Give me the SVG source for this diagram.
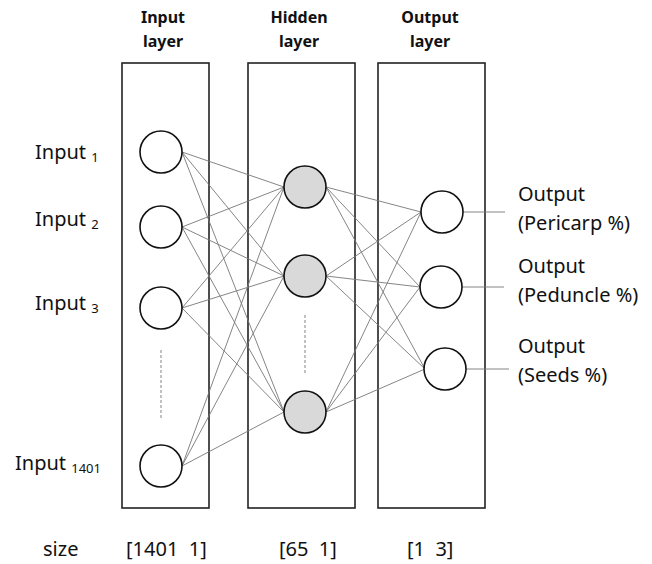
<svg xmlns="http://www.w3.org/2000/svg" width="652" height="564" viewBox="0 0 652 564">
<style>
.box{fill:none;stroke:#222;stroke-width:1.6}
.n{fill:#fff;stroke:#111;stroke-width:1.6}
.h{fill:#d9d9d9;stroke:#111;stroke-width:1.6}
.c{stroke:#777;stroke-width:0.9;fill:none}
.d{stroke:#999;stroke-width:1.2;stroke-dasharray:3,2}
.t{font-family:"Noto Sans","Open Sans",sans-serif;font-size:20px;fill:#111}
.s{font-size:13px}
.hd{font-family:"Noto Sans","Open Sans",sans-serif;font-size:16px;font-weight:bold;fill:#111;text-anchor:middle}
</style>
<rect width="652" height="564" fill="#fff"/>
<g id="headers">
<text class="hd" x="163" y="23">Input</text><text class="hd" x="163" y="47">layer</text>
<text class="hd" x="299" y="23">Hidden</text><text class="hd" x="299" y="47">layer</text>
<text class="hd" x="430" y="23">Output</text><text class="hd" x="430" y="47">layer</text>
</g>
<g id="layers">
<rect id="input-layer" class="box" x="122" y="63" width="87" height="445"/>
<rect id="hidden-layer" class="box" x="248" y="63" width="107" height="445"/>
<rect id="output-layer" class="box" x="378" y="63" width="107" height="445"/>
</g>
<g id="connectors">
<path class="c" d="M182 152L284 187M182 152L284 276M182 152L284 412
M182 227L284 187M182 227L284 276M182 227L284 412
M182 308L284 187M182 308L284 276M182 308L284 412
M182 466L284 187M182 466L284 276M182 466L284 412
M326 187L421 212M326 187L420 287M326 187L425 369
M326 276L421 212M326 276L420 287M326 276L425 369
M326 412L421 212M326 412L420 287M326 412L425 369
M463 212L505 212M462 287L504 287M466 369L509 369"/>
<line class="d" x1="161" y1="350" x2="161" y2="418"/>
<line class="d" x1="305" y1="315" x2="305" y2="375"/>
</g>
<g id="input1"><circle class="n" cx="161" cy="152" r="21"/><text class="t" x="35" y="159">Input <tspan class="s" dy="3">1</tspan></text></g>
<g id="input2"><circle class="n" cx="161" cy="227" r="21"/><text class="t" x="35" y="226">Input <tspan class="s" dy="3">2</tspan></text></g>
<g id="input3"><circle class="n" cx="161" cy="308" r="21"/><text class="t" x="35" y="310">Input <tspan class="s" dy="3">3</tspan></text></g>
<g id="input1401"><circle class="n" cx="161" cy="466" r="21"/><text class="t" x="15" y="470">Input <tspan class="s" dy="3">1401</tspan></text></g>
<g id="hidden1"><circle class="h" cx="305" cy="187" r="21"/></g>
<g id="hidden2"><circle class="h" cx="305" cy="276" r="21"/></g>
<g id="hidden3"><circle class="h" cx="305" cy="412" r="21"/></g>
<g id="output1"><circle class="n" cx="442" cy="212" r="21"/><text class="t" x="518" y="201">Output</text><text class="t" x="518" y="230">(Pericarp %)</text></g>
<g id="output2"><circle class="n" cx="441" cy="287" r="21"/><text class="t" x="518" y="273">Output</text><text class="t" x="518" y="302">(Peduncle %)</text></g>
<g id="output3"><circle class="n" cx="445" cy="369" r="21"/><text class="t" x="518" y="353">Output</text><text class="t" x="518" y="382">(Seeds %)</text></g>
<g id="sizes">
<text class="t" x="43" y="556">size</text>
<text class="t" x="126" y="556" xml:space="preserve">[1401  1]</text>
<text class="t" x="279" y="556" xml:space="preserve">[65  1]</text>
<text class="t" x="407" y="556" xml:space="preserve">[1  3]</text>
</g>
</svg>
